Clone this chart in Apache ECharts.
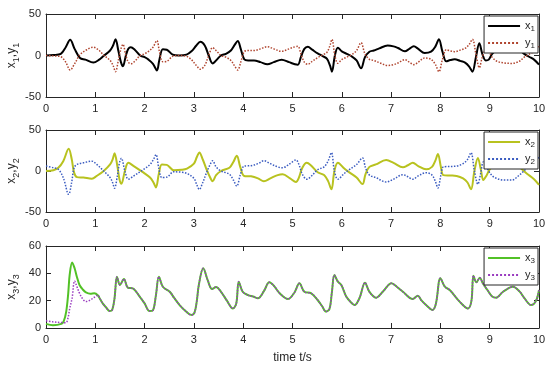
<!DOCTYPE html>
<html><head><meta charset="utf-8">
<script src="https://cdn.jsdelivr.net/npm/echarts@6/dist/echarts.min.js"></script>
<style>html,body{margin:0;padding:0;background:#fff}#c{width:550px;height:365px}</style>
</head><body><div id="c"></div>
<script>
// ---------------- data ----------------
const xTicks = [0,1,2,3,4,5,6,7,8,9,10];

const t1 = [0,0.15,0.3,0.4,0.49,0.58,0.69,0.8,0.96,1.08,1.16,1.3,1.36,1.41,1.47,1.52,1.56,1.62,1.67,1.72,1.8,1.91,2.0,2.08,2.17,2.25,2.3,2.37,2.45,2.57,2.7,2.85,2.95,3.05,3.13,3.22,3.3,3.38,3.45,3.55,3.65,3.75,3.83,3.89,3.95,4.02,4.1,4.22,4.35,4.49,4.62,4.78,4.93,5.05,5.11,5.17,5.24,5.31,5.4,5.51,5.62,5.7,5.76,5.8,5.86,5.92,6.0,6.1,6.2,6.3,6.39,6.47,6.56,6.65,6.76,6.93,7.05,7.14,7.28,7.37,7.46,7.55,7.68,7.81,7.9,7.97,8.04,8.12,8.2,8.29,8.4,8.5,8.58,8.65,8.72,8.79,8.85,8.92,8.98,9.05,9.15,9.3,9.45,9.6,9.7,9.8,9.9,10];
const x1 = [0,0.5,2,10,19,8,-3,-5,-8.5,-5,-1,6,12,19.5,5,-8,-13,0,8,10,7,0,-2,-5,-10,-18,-5,7.5,7,1,0,1,5,12,16.5,12,0,-9.5,-6,0,2,6,13,17.5,8,-4.5,-6,-6,-8,-10.6,-8,-5,-8,-10.5,-11,-2,8,10.6,7,2.6,-1,-4,-12,-19.5,0,9.4,5,2,-1,-6,-15.4,-2,4.6,6,8.6,12,11,9,5,8,11,8,3,4.6,11,19.5,5,-7,-5.5,-4.6,-6.5,-8.6,-13,-19.5,-2,14.7,2,-6,-5,2,7,9,9.5,7,2,-1.5,-5,-11];
const y1 = [0,-0.5,-1.5,-8,-17.5,-10,1,6,10,6,1,-6,-12,-19.5,-5,8,13.5,0,-8,-10,-7,0,2,5,10,18,5,-7.5,-7,-1,0,-1,-5,-12,-16.5,-12,0,9.5,6,0,-2,-6,-13,-17.5,-8,4.5,6,6,8,10.6,8,5,8,10.5,11,2,-8,-10.6,-7,-2.6,1,4,12,19.5,0,-9.4,-5,-2,1,6,15.4,2,-4.6,-6,-8.6,-12,-11,-9,-5,-8,-11,-8,-3,-4.6,-11,-19.5,-5,7,5.5,4.6,6.5,8.6,13,19.5,2,-14.7,-2,6,5,-2,-7,-9,-9.5,-7,-2,1.5,5,11];

const t2 = [0,0.15,0.25,0.35,0.46,0.52,0.57,0.63,0.76,0.93,1.03,1.17,1.3,1.35,1.39,1.45,1.49,1.53,1.6,1.67,1.78,1.98,2.11,2.18,2.23,2.29,2.35,2.45,2.59,2.75,2.86,3.0,3.06,3.11,3.18,3.25,3.33,3.38,3.45,3.55,3.72,3.8,3.87,3.94,4.02,4.16,4.3,4.42,4.55,4.7,4.8,4.95,5.07,5.13,5.2,5.29,5.37,5.51,5.64,5.72,5.79,5.85,5.92,6.05,6.16,6.3,6.42,6.48,6.56,6.69,6.9,7.05,7.24,7.34,7.44,7.55,7.71,7.83,7.9,7.95,8.01,8.06,8.2,8.33,8.46,8.55,8.62,8.69,8.76,8.82,8.87,8.93,9.0,9.1,9.3,9.45,9.6,9.75,9.9,10];
const x2 = [0,1,4,12,27,15,-2,-7.5,-8,-9.3,-6,0,8,14,21.5,5,-10,-15.5,0,10,6,-2,-8,-14,-20,-3,8,7.5,1,1.5,3,9,17,22.5,14,3,-8,-12.5,-5,0,4,11,18.5,5,-6,-6.5,-9,-12.5,-9,-5,-4,-9,-13.5,-8,4,10,7,-1.5,-5,-12,-22.4,0,10,3,-2,-8,-16,-4,5,8,13.4,10,4.5,7,10,6,2,5,13,20.7,5,-5,-5.5,-6,-9,-14,-22.4,0,16,2,-11,-6,2,8,11,11,5,-3,-10,-17];
const y2 = [6,4,2,-8,-28.5,-14,4,8,10,12,8,0,-8,-14,-21,-5,10,15.5,0,-10,-6,2,8,14,20,3,-8,-7.5,-1,-1.5,-3,-9,-17,-22.5,-14,-3,8,12.5,5,0,-4,-11,-18.5,-5,6,6.5,9,12.5,9,5,4,9,13.5,8,-4,-10,-7,1.5,5,12,22.4,0,-10,-3,2,8,16,4,-5,-8,-13.4,-10,-4.5,-7,-10,-6,-2,-5,-13,-20.7,-5,5,5.5,6,9,14,22.4,0,-16,-2,11,6,-2,-8,-11,-11,-5,3,10,17];

const t3 = [0,0.14,0.31,0.36,0.41,0.45,0.48,0.53,0.58,0.63,0.68,0.75,0.81,0.9,0.98,1.05,1.1,1.15,1.22,1.29,1.34,1.39,1.44,1.5,1.58,1.66,1.76,1.9,2.0,2.1,2.17,2.23,2.29,2.37,2.51,2.6,2.71,2.83,2.95,3.01,3.06,3.1,3.19,3.28,3.37,3.45,3.55,3.67,3.79,3.86,3.91,3.99,4.1,4.2,4.3,4.42,4.53,4.62,4.74,4.91,5.04,5.14,5.24,5.38,5.51,5.6,5.68,5.75,5.8,5.85,5.92,5.99,6.09,6.18,6.26,6.36,6.47,6.56,6.7,6.83,7.01,7.12,7.24,7.44,7.54,7.62,7.71,7.84,7.91,8.0,8.09,8.19,8.39,8.56,8.63,8.67,8.73,8.8,8.86,8.95,9.05,9.13,9.27,9.47,9.6,9.7,9.84,9.94,10];
const x3 = [3,2,3,5,12,25,38.8,48,43.7,37,31.5,28,26,25,25.4,24,21,18,15,12.4,13,21.7,37.5,31.5,35.8,29.5,29,23,18,12.4,13,24,37.5,30.2,26.5,22,16.8,12.5,9.5,11,20,31.5,43.7,35,28.5,30,26.5,20,14.3,18,33.9,26.5,24,23,21.7,27,33.4,31,25.4,21.2,26,32.7,26.5,25.4,20.5,16,12,14,26.5,38.8,33.9,31.5,23,19,16.8,22,33.2,26.5,22.2,26.5,32.7,30,26.5,21.2,23.6,20,16.8,13.2,18,36.4,30.2,27.8,19.3,14.3,20,38.3,33.4,36.8,32.7,28,23,22.2,26.5,30.2,27,22,16.8,20,27.8];
const y3 = [5.3,4.5,4,3.9,4,8,14,22,34.4,30,25.4,21,19.3,20.5,22.5,24,21,18,15,12.4,13,21.7,37.5,31.5,35.8,29.5,29,23,18,12.4,13,24,37.5,30.2,26.5,22,16.8,12.5,9.5,11,20,31.5,43.7,35,28.5,30,26.5,20,14.3,18,33.9,26.5,24,23,21.7,27,33.4,31,25.4,21.2,26,32.7,26.5,25.4,20.5,16,12,14,26.5,38.8,33.9,31.5,23,19,16.8,22,33.2,26.5,22.2,26.5,32.7,30,26.5,21.2,23.6,20,16.8,13.2,18,36.4,30.2,27.8,19.3,14.3,20,38.3,33.4,36.8,32.7,28,23,22.2,26.5,30.2,27,22,16.8,20,27.8];

const yRanges = [[-50,50,50],[-50,50,50],[0,60,20]];
const yNames = [['x','1','y','1'],['x','2','y','2'],['x','3','y','3']];
// -----------------------------------------------------------------

const AX = '#262626';
const FONT = 'Liberation Sans, Arial, sans-serif';
const gridTops = [14,130,246];
const gridH = [83,82,82];
const grids = gridTops.map((t,i)=>({left:46,right:11,top:t,height:gridH[i],show:false,
  containLabel:false,outerBoundsMode:'none'}));

const xAxes = [], yAxes = [];
for (let g=0; g<3; g++) {
  xAxes.push({gridIndex:g,type:'value',min:0,max:10,interval:1,position:'bottom',
    axisLine:{show:true,onZero:false,lineStyle:{color:AX,width:1}},
    axisTick:{show:true,inside:true,length:5,lineStyle:{color:AX}},
    axisLabel:{show:true,color:AX,fontSize:11,fontFamily:FONT,margin:6,formatter:v=>String(v)},
    splitLine:{show:false},
    name: g===2?'time t/s':'', nameLocation:'middle', nameGap:24, nameMoveOverlap:false,
    nameTextStyle:{color:AX,fontSize:12,fontFamily:FONT}});
  xAxes.push({gridIndex:g,type:'value',min:0,max:10,interval:1,position:'top',
    axisLine:{show:true,onZero:false,lineStyle:{color:AX,width:1}},
    axisTick:{show:true,inside:true,length:5,lineStyle:{color:AX}},
    axisLabel:{show:false},splitLine:{show:false}});
  const r = yRanges[g], n = yNames[g];
  yAxes.push({gridIndex:g,type:'value',min:r[0],max:r[1],interval:r[2],position:'left',
    axisLine:{show:true,onZero:false,lineStyle:{color:AX,width:1}},
    axisTick:{show:true,inside:true,length:5,lineStyle:{color:AX}},
    axisLabel:{show:true,color:AX,fontSize:11,fontFamily:FONT,margin:5},
    splitLine:{show:false},
    name:'{m|'+n[0]+'}{s|'+n[1]+'}{m|,'+n[2]+'}{s|'+n[3]+'}',
    nameLocation:'middle',nameRotate:90,nameGap:27,nameMoveOverlap:false,
    nameTextStyle:{color:AX,fontFamily:FONT,rich:{
      m:{fontSize:12,color:AX,fontFamily:FONT,lineHeight:14},
      s:{fontSize:9,color:AX,fontFamily:FONT,lineHeight:10,padding:[9,0,0,0]}}}});
  yAxes.push({gridIndex:g,type:'value',min:r[0],max:r[1],interval:r[2],position:'right',
    axisLine:{show:true,onZero:false,lineStyle:{color:AX,width:1}},
    axisTick:{show:true,inside:true,length:5,lineStyle:{color:AX}},
    axisLabel:{show:false},splitLine:{show:false}});
}

function pairs(t,v){ return t.map((x,i)=>[x,v[i]]); }
function ser(name,g,t,v,color,width,type,z){
  return {name:name,type:'line',xAxisIndex:2*g,yAxisIndex:2*g,data:pairs(t,v),
    smooth:0.35,symbol:'none',showSymbol:false,animation:false,z:z,
    lineStyle:{color:color,width:width,type:type},itemStyle:{color:color}};
}
const series = [
  ser('x1',0,t1,x1,'#000000',2,'solid',2),
  ser('y1',0,t1,y1,'#b0452f',1.5,'dotted',3),
  ser('x2',1,t2,x2,'#b8c21f',2,'solid',2),
  ser('y2',1,t2,y2,'#3b5cc0',1.5,'dotted',3),
  ser('x3',2,t3,x3,'#52c126',2,'solid',2),
  ser('y3',2,t3,y3,'#9a3cc0',1.5,'dotted',3)
];

function legend(names,top){
  return {data:names,orient:'vertical',right:12,top:top,
    backgroundColor:'#ffffff',borderColor:AX,borderWidth:1,borderRadius:0,
    padding:[3,3,3,3],itemWidth:32,itemHeight:12,itemGap:3,
    itemStyle:{opacity:0,borderWidth:0},
    formatter:nm=>'{m|'+nm[0]+'}{s|'+nm[1]+'}',
    textStyle:{color:AX,fontFamily:FONT,rich:{
      m:{fontSize:11,color:AX,fontFamily:FONT,lineHeight:12},
      s:{fontSize:8,color:AX,fontFamily:FONT,lineHeight:8,padding:[6,0,0,0]}}}};
}

const chart = echarts.init(document.getElementById('c'),null,{renderer:'canvas'});
chart.setOption({
  animation:false,
  backgroundColor:'#ffffff',
  grid:grids, xAxis:xAxes, yAxis:yAxes, series:series,
  legend:[legend(['x1','y1'],16),legend(['x2','y2'],132),legend(['x3','y3'],248)]
});
</script></body></html>
